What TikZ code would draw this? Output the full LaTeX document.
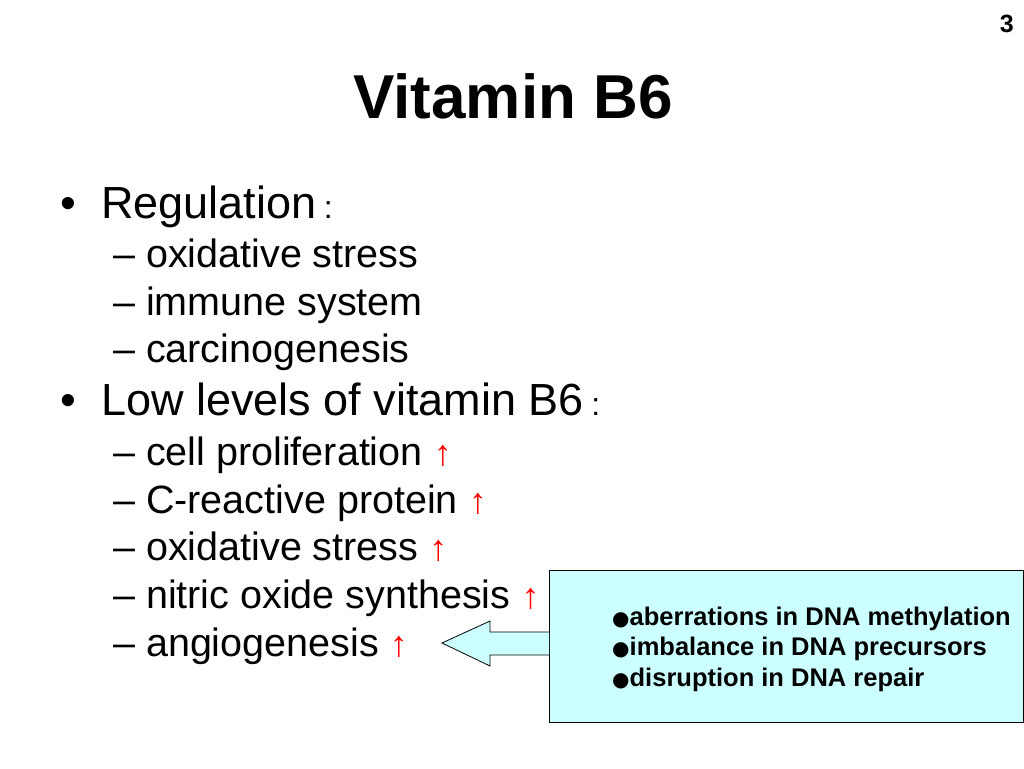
\documentclass[tikz,border=0pt]{standalone}
\usepackage{fontspec}
\setmainfont{Liberation Sans}
\newfontfamily\dv{DejaVu Sans}
\newcommand{\upar}{{\color{red}\fontsize{36}{40}\selectfont↑}}
\begin{document}
\begin{tikzpicture}[x=1pt,y=-1pt,
  lvl/.style={anchor=base west,inner sep=0pt,font=\fontsize{45}{52}\selectfont},
  sub/.style={anchor=base west,inner sep=0pt,font=\fontsize{39.5}{46}\selectfont},
  box/.style={anchor=base west,inner sep=0pt,font=\fontsize{25.5}{30}\selectfont\bfseries}]
\useasboundingbox (0,0) rectangle (1024,768);
\fill[white] (0,0) rectangle (1024,768);
\node[anchor=base east,inner sep=0pt,font=\fontsize{25}{28}\selectfont\bfseries] (pg) at (1014,33) {3};
\node[anchor=base,inner sep=0pt,font=\fontsize{62}{70}\selectfont\bfseries] (title) at (513,118) {Vitamin B6};
\node[lvl,anchor=base west] (d1) at (60,218) {•};
\node[lvl] (b1) at (101,218) {Regulation\,\fontsize{32}{34}\selectfont:};
\node[sub] (s1) at (113,267) {– oxidative stress};
\node[sub] (s2) at (113,315) {– immune system};
\node[sub] (s3) at (113,362) {– carcinogenesis};
\node[lvl,anchor=base west] (d2) at (60,415) {•};
\node[lvl] (b2) at (101,415) {Low levels of vitamin B6\,\fontsize{32}{34}\selectfont:};
\node[sub] (t1) at (113,465) {– cell proliferation \upar};
\node[sub] (t2) at (113,513) {– C-reactive protein \upar};
\node[sub] (t3) at (113,560) {– oxidative stress \upar};
\node[sub] (t4) at (113,608) {– nitric oxide synthesis \upar};
\node[sub] (t5) at (113,656) {– angiogenesis \upar};
\draw[fill={rgb,255:red,204;green,255;blue,255},line width=0.8pt]
  (549,570) rectangle (1023,722);
\draw[fill={rgb,255:red,204;green,255;blue,255},line width=0.8pt]
  (549,632) -- (490,632) -- (490,621) -- (442,643) -- (490,666) -- (490,655) -- (549,655);
\node[box] (c1) at (612,625) {{\dv\fontsize{20}{22}\selectfont●}aberrations in DNA methylation};
\node[box] (c2) at (612,655) {{\dv\fontsize{20}{22}\selectfont●}imbalance in DNA precursors};
\node[box] (c3) at (612,686) {{\dv\fontsize{20}{22}\selectfont●}disruption in DNA repair};
\end{tikzpicture}
\end{document}
